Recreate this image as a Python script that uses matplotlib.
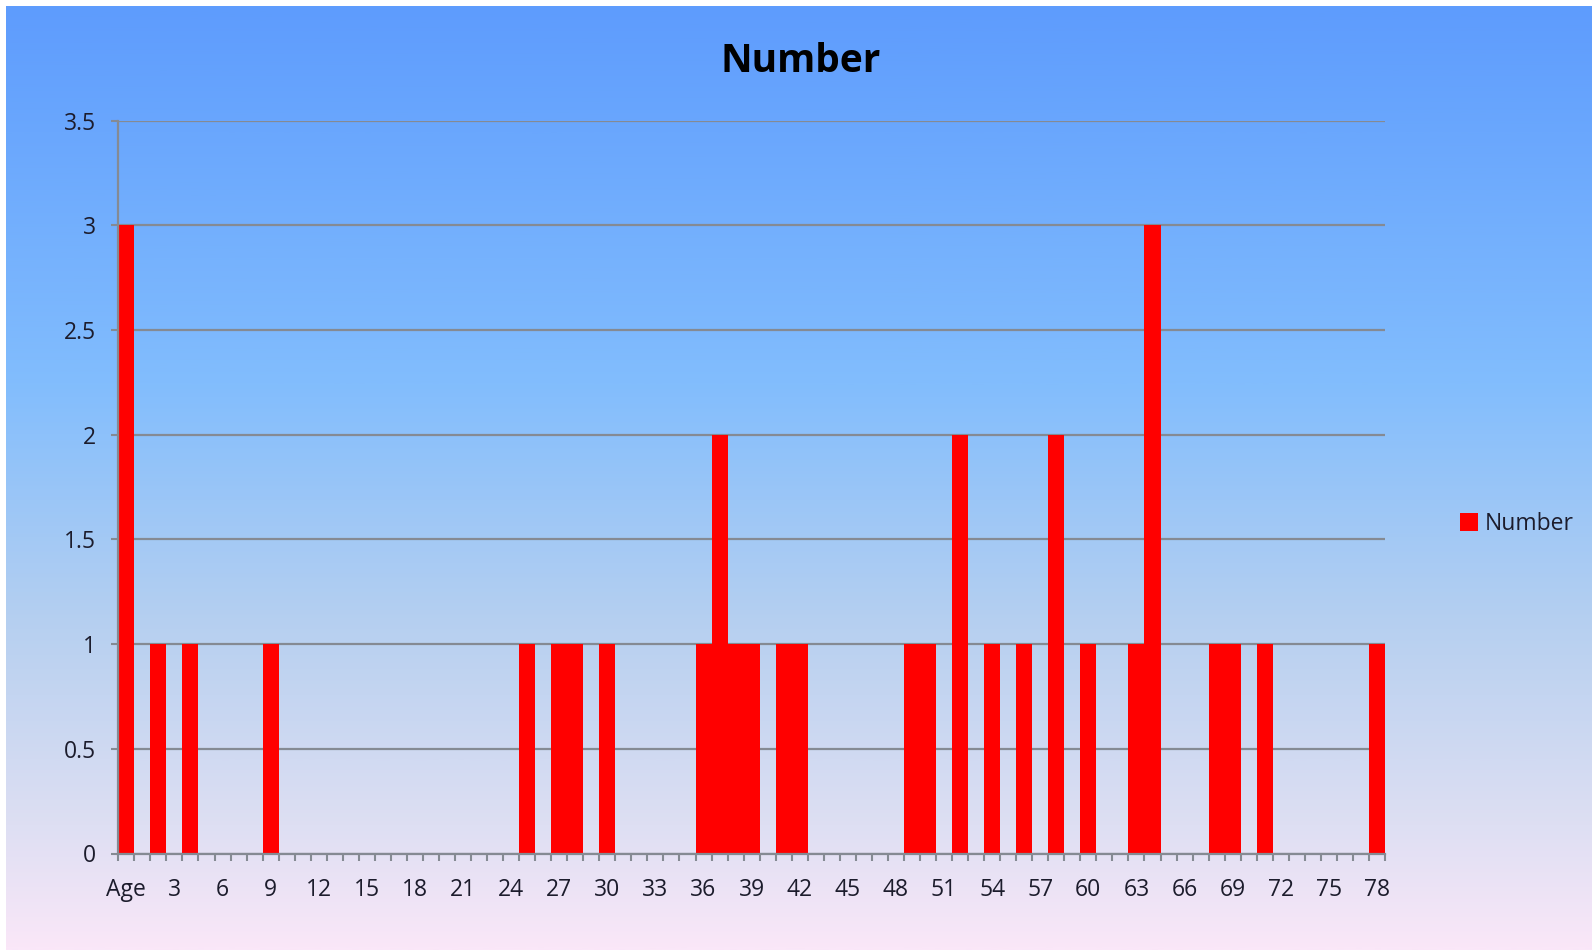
import numpy as np
import matplotlib
matplotlib.use("Agg")
import matplotlib.pyplot as plt
from matplotlib.colors import LinearSegmentedColormap

# Categories: "Age" header followed by ages 1..78
categories = ["Age"] + [str(a) for a in range(1, 79)]

# Number of people per category
counts = [0] * len(categories)
nonzero = {
    "Age": 3, "2": 1, "4": 1, "9": 1, "25": 1, "27": 1, "28": 1, "30": 1,
    "36": 1, "37": 2, "38": 1, "39": 1, "41": 1, "42": 1, "49": 1, "50": 1,
    "52": 2, "54": 1, "56": 1, "58": 2, "60": 1, "63": 1, "64": 3,
    "68": 1, "69": 1, "71": 1, "78": 1,
}
for k, v in nonzero.items():
    counts[categories.index(k)] = v

y_ticks = [0, 0.5, 1, 1.5, 2, 2.5, 3, 3.5]
y_tick_labels = ["0", "0.5", "1", "1.5", "2", "2.5", "3", "3.5"]

FONT = "Open Sans"
TEXT_COLOR = "#1c1c2c"
GRID_COLOR = "#858a93"

W, H = 1592, 951
fig = plt.figure(figsize=(W / 100, H / 100), dpi=100, facecolor="white")

# Gradient backdrop: blue at the top fading to a pale pink at the bottom
bg = fig.add_axes([6 / W, 1 / H, (W - 6) / W, (H - 7) / H])
grad_cmap = LinearSegmentedColormap.from_list(
    "sky",
    [(0.0, "#5e9cfd"), (0.40, "#82bdfd"), (0.66, "#b7d0f0"),
     (0.87, "#dedff3"), (1.0, "#fae7f8")],
)
grad = np.linspace(0, 1, 512).reshape(-1, 1)
bg.imshow(grad, cmap=grad_cmap, aspect="auto", extent=[0, 1, 0, 1], origin="upper")
bg.set_axis_off()

# Plot area
left, right = 118.3 / W, 1385 / W
bottom, top = 1 - 853.5 / H, 1 - 120.5 / H
ax = fig.add_axes([left, bottom, right - left, top - bottom])
ax.set_facecolor("none")

x = np.arange(len(categories))
ax.bar(x, counts, width=1.0, color="#ff0000", zorder=3, label="Number")

ax.set_xlim(-0.5, len(categories) - 0.5)
ax.set_ylim(0, 3.5)

ax.set_yticks(y_ticks)
ax.set_yticklabels(y_tick_labels)
ax.yaxis.grid(True, color=GRID_COLOR, linewidth=1.6, zorder=0)
ax.set_axisbelow(True)

label_idx = x[::3]
ax.set_xticks(label_idx)
ax.set_xticklabels([categories[i] for i in label_idx])
ax.set_xticks(np.arange(-0.5, len(categories), 1.0), minor=True)

ax.tick_params(axis="x", which="major", length=0, pad=18,
               labelsize=16.5, labelcolor=TEXT_COLOR)
ax.tick_params(axis="x", which="minor", length=5, width=1.5,
               color=GRID_COLOR, direction="out")
ax.tick_params(axis="y", which="major", length=5, width=1.5,
               color=GRID_COLOR, pad=11, labelsize=16.5, labelcolor=TEXT_COLOR)

for lab in ax.get_xticklabels() + ax.get_yticklabels():
    lab.set_fontfamily(FONT)

for side in ("top", "right"):
    ax.spines[side].set_visible(False)
for side in ("left", "bottom"):
    ax.spines[side].set_color(GRID_COLOR)
    ax.spines[side].set_linewidth(1.6)
    ax.spines[side].set_zorder(4)

fig.text(801 / W, 1 - 61 / H, "Number", ha="center", va="center",
         fontsize=28, fontweight="bold", family=FONT, color="black")

leg = ax.legend(
    loc="center left", bbox_to_anchor=(1460 / W, 1 - 524 / H),
    bbox_transform=fig.transFigure, frameon=False,
    borderpad=0, borderaxespad=0, handlelength=0.8, handleheight=0.8,
    handletextpad=0.3, prop={"family": FONT, "size": 16.5},
)
for t in leg.get_texts():
    t.set_color(TEXT_COLOR)

fig.savefig("out.png", dpi=100, facecolor="white")
